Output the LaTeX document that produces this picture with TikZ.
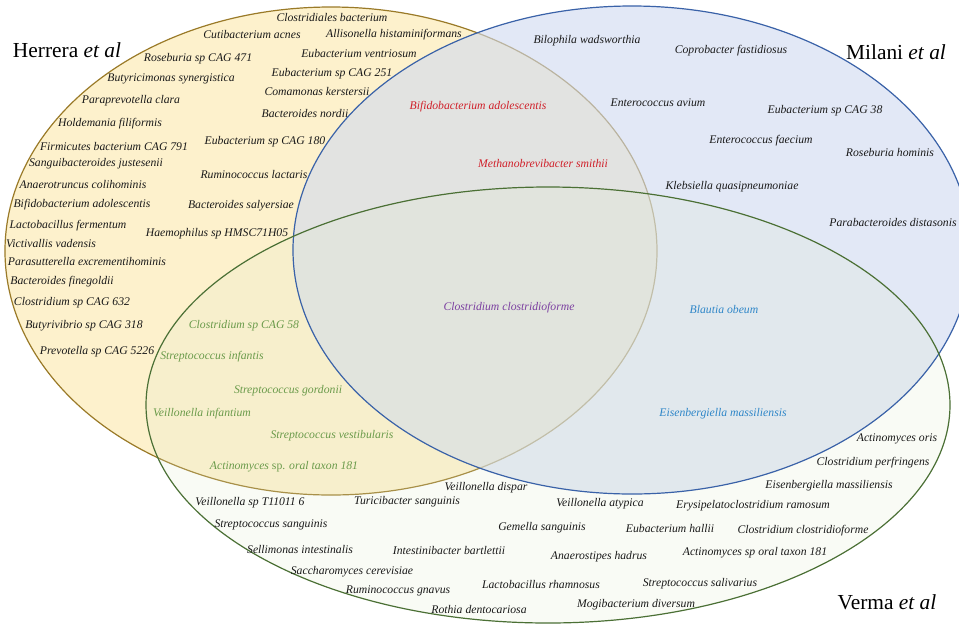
\documentclass[tikz,border=0pt]{standalone}
\usepackage{fontspec}
\setmainfont{Liberation Serif}
\definecolor{yfill}{RGB}{253,241,204}
\definecolor{yline}{RGB}{154,122,40}
\definecolor{bfill}{RGB}{208,218,240}
\definecolor{bline}{RGB}{58,98,168}
\definecolor{gfill}{RGB}{225,235,205}
\definecolor{gline}{RGB}{75,112,53}
\definecolor{txtblack}{RGB}{25,25,25}
\definecolor{txtred}{RGB}{208,32,42}
\definecolor{txtpurple}{RGB}{123,63,160}
\definecolor{txtblue}{RGB}{46,134,200}
\definecolor{txtgreen}{RGB}{106,154,74}
\tikzset{
  lbl/.style={font=\fontsize{11.7}{13}\selectfont\itshape, inner sep=0pt, text=txtblack},
  redlbl/.style={lbl, text=txtred},
  purplbl/.style={lbl, text=txtpurple},
  bluelbl/.style={lbl, text=txtblue},
  greenlbl/.style={lbl, text=txtgreen},
  ttl/.style={font=\fontsize{21.4}{24}\selectfont, inner sep=0pt, text=black},
  setline/.style={line width=1.2pt}
}
\begin{document}
\begin{tikzpicture}[x=1pt,y=-1pt]
\useasboundingbox (0,0) rectangle (959,625);
\clip (0,0) rectangle (959,625);
\fill[white] (0,0) rectangle (959,625);
% Herrera
\path[fill=yfill, draw=yline, setline] (331,251) ellipse [x radius=326pt, y radius=244pt];
% Milani
\path[fill=bfill, fill opacity=0.6] (632,250) ellipse [x radius=339pt, y radius=244pt];
% Verma
\path[fill=gfill, fill opacity=0.2] (548,405) ellipse [x radius=402pt, y radius=218pt];
\draw[bline, setline] (632,250) ellipse [x radius=339pt, y radius=244pt];
\draw[gline, setline] (548,405) ellipse [x radius=402pt, y radius=218pt];

% titles
\node[ttl] (tH) at (67,50) {Herrera \textit{et al}};
\node[ttl] (tM) at (896,52) {Milani \textit{et al}};
\node[ttl] (tV) at (887,602) {Verma \textit{et al}};

% Herrera only
\node[lbl] (h1) at (332,18) {Clostridiales bacterium};
\node[lbl] (h2) at (252,35) {Cutibacterium acnes};
\node[lbl] (h3) at (394,35) {Allisonella histaminiformans};
\node[lbl] (h4) at (198,59) {Roseburia sp CAG 471};
\node[lbl] (h5) at (359,54) {Eubacterium ventriosum};
\node[lbl] (h6) at (171,79) {Butyricimonas synergistica};
\node[lbl] (h7) at (332,74) {Eubacterium sp CAG 251};
\node[lbl] (h8) at (317,91) {Comamonas kerstersii};
\node[lbl] (h9) at (131,101) {Paraprevotella clara};
\node[lbl] (h10) at (305,113) {Bacteroides nordii};
\node[lbl] (h11) at (110,124) {Holdemania filiformis};
\node[lbl] (h12) at (265,142) {Eubacterium sp CAG 180};
\node[lbl] (h13) at (114,147) {Firmicutes bacterium CAG 791};
\node[lbl] (h14) at (96,164) {Sanguibacteroides justesenii};
\node[lbl] (h15) at (254,175) {Ruminococcus lactaris};
\node[lbl] (h16) at (83,185) {Anaerotruncus colihominis};
\node[lbl] (h17) at (82,205) {Bifidobacterium adolescentis};
\node[lbl] (h18) at (241,206) {Bacteroides salyersiae};
\node[lbl] (h19) at (68,226) {Lactobacillus fermentum};
\node[lbl] (h20) at (217,234) {Haemophilus sp HMSC71H05};
\node[lbl] (h21) at (51,244) {Victivallis vadensis};
\node[lbl] (h22) at (87,262) {Parasutterella excrementihominis};
\node[lbl] (h23) at (62,282) {Bacteroides finegoldii};
\node[lbl] (h24) at (72,303) {Clostridium sp CAG 632};
\node[lbl] (h25) at (84,326) {Butyrivibrio sp CAG 318};
\node[lbl] (h26) at (97,352) {Prevotella sp CAG 5226};

% Herrera & Milani
\node[redlbl] (hm1) at (478,107) {Bifidobacterium adolescentis};
\node[redlbl] (hm2) at (543,163) {Methanobrevibacter smithii};

% all three
\node[purplbl] (hmv1) at (509,308) {Clostridium clostridioforme};

% Milani & Verma
\node[bluelbl] (mv1) at (724,310) {Blautia obeum};
\node[bluelbl] (mv2) at (723,414) {Eisenbergiella massiliensis};

% Herrera & Verma
\node[greenlbl] (hv1) at (244,326) {Clostridium sp CAG 58};
\node[greenlbl] (hv2) at (212,357) {Streptococcus infantis};
\node[greenlbl] (hv3) at (288,391) {Streptococcus gordonii};
\node[greenlbl] (hv4) at (202,414) {Veillonella infantium};
\node[greenlbl] (hv5) at (332,436) {Streptococcus vestibularis};
\node[greenlbl] (hv6) at (284,467) {Actinomyces \textup{sp.} oral taxon 181};

% Milani only
\node[lbl] (m1) at (587,41) {Bilophila wadsworthia};
\node[lbl] (m2) at (731,51) {Coprobacter fastidiosus};
\node[lbl] (m3) at (658,103) {Enterococcus avium};
\node[lbl] (m4) at (825,111) {Eubacterium sp CAG 38};
\node[lbl] (m5) at (761,141) {Enterococcus faecium};
\node[lbl] (m6) at (890,153) {Roseburia hominis};
\node[lbl] (m7) at (732,187) {Klebsiella quasipneumoniae};
\node[lbl] (m8) at (893,222) {Parabacteroides distasonis};

% Verma only
\node[lbl] (v1) at (897,439) {Actinomyces oris};
\node[lbl] (v2) at (873,463) {Clostridium perfringens};
\node[lbl] (v3) at (829,486) {Eisenbergiella massiliensis};
\node[lbl] (v4) at (753,506) {Erysipelatoclostridium ramosum};
\node[lbl] (v5) at (803,531) {Clostridium clostridioforme};
\node[lbl] (v6) at (755,553) {Actinomyces sp oral taxon 181};
\node[lbl] (v7) at (700,584) {Streptococcus salivarius};
\node[lbl] (v8) at (250,503) {Veillonella sp T11011 6};
\node[lbl] (v9) at (407,502) {Turicibacter sanguinis};
\node[lbl] (v10) at (486,488) {Veillonella dispar};
\node[lbl] (v11) at (600,504) {Veillonella atypica};
\node[lbl] (v12) at (271,525) {Streptococcus sanguinis};
\node[lbl] (v13) at (542,528) {Gemella sanguinis};
\node[lbl] (v14) at (670,528) {Eubacterium hallii};
\node[lbl] (v15) at (300,549) {Sellimonas intestinalis};
\node[lbl] (v16) at (449,550) {Intestinibacter bartlettii};
\node[lbl] (v17) at (599,557) {Anaerostipes hadrus};
\node[lbl] (v18) at (352,572) {Saccharomyces cerevisiae};
\node[lbl] (v19) at (398,591) {Ruminococcus gnavus};
\node[lbl] (v20) at (541,584) {Lactobacillus rhamnosus};
\node[lbl] (v21) at (479,609) {Rothia dentocariosa};
\node[lbl] (v22) at (636,605) {Mogibacterium diversum};
\end{tikzpicture}
\end{document}
